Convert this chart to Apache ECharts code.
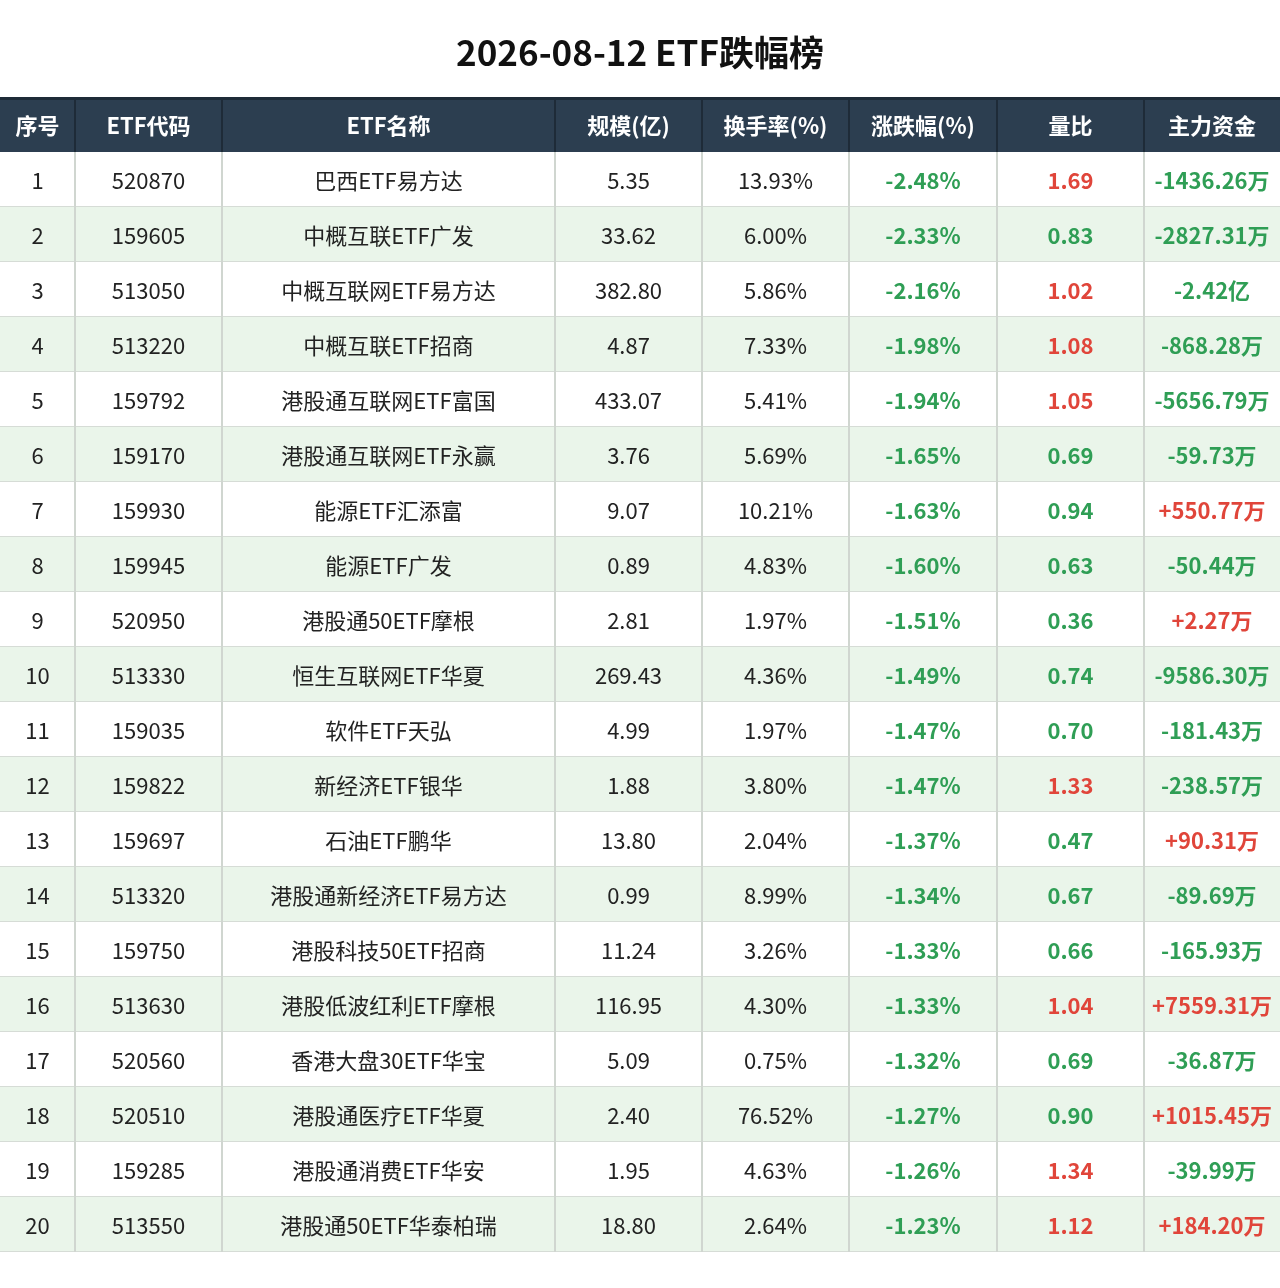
<!DOCTYPE html><html><head><meta charset="utf-8"><script src="https://cdn.jsdelivr.net/npm/echarts@6/dist/echarts.min.js"></script>
<style>body{margin:0;background:#fff}#c{width:1280px;height:1288px}</style></head><body><div id="c"></div><script>
const headers=['序号','ETF代码','ETF名称','规模(亿)','换手率(%)','涨跌幅(%)','量比','主力资金'];
const codes=['520870','159605','513050','513220','159792','159170','159930','159945','520950','513330','159035','159822','159697','513320','159750','513630','520560','520510','159285','513550'];
const names=['巴西ETF易方达','中概互联ETF广发','中概互联网ETF易方达','中概互联ETF招商','港股通互联网ETF富国','港股通互联网ETF永赢','能源ETF汇添富','能源ETF广发','港股通50ETF摩根','恒生互联网ETF华夏','软件ETF天弘','新经济ETF银华','石油ETF鹏华','港股通新经济ETF易方达','港股科技50ETF招商','港股低波红利ETF摩根','香港大盘30ETF华宝','港股通医疗ETF华夏','港股通消费ETF华安','港股通50ETF华泰柏瑞'];
const scale=['5.35','33.62','382.80','4.87','433.07','3.76','9.07','0.89','2.81','269.43','4.99','1.88','13.80','0.99','11.24','116.95','5.09','2.40','1.95','18.80'];
const turnover=['13.93%','6.00%','5.86%','7.33%','5.41%','5.69%','10.21%','4.83%','1.97%','4.36%','1.97%','3.80%','2.04%','8.99%','3.26%','4.30%','0.75%','76.52%','4.63%','2.64%'];
const change=['-2.48%','-2.33%','-2.16%','-1.98%','-1.94%','-1.65%','-1.63%','-1.60%','-1.51%','-1.49%','-1.47%','-1.47%','-1.37%','-1.34%','-1.33%','-1.33%','-1.32%','-1.27%','-1.26%','-1.23%'];
const volRatio=['1.69','0.83','1.02','1.08','1.05','0.69','0.94','0.63','0.36','0.74','0.70','1.33','0.47','0.67','0.66','1.04','0.69','0.90','1.34','1.12'];
const funds=['-1436.26万','-2827.31万','-2.42亿','-868.28万','-5656.79万','-59.73万','+550.77万','-50.44万','+2.27万','-9586.30万','-181.43万','-238.57万','+90.31万','-89.69万','-165.93万','+7559.31万','-36.87万','+1015.45万','-39.99万','+184.20万'];
const bounds=[0,75,222,555,702,849,997,1144,1280];
const RED='#e0453a',GREEN='#2f9e55',FONT='"Noto Sans CJK SC","Noto Sans",sans-serif';
const rows=[{v:[0],cells:headers,hdr:true}];
for(let i=0;i<20;i++)rows.push({v:[i+1],cells:[String(i+1),codes[i],names[i],scale[i],turnover[i],change[i],volRatio[i],funds[i]]});
const chart=echarts.init(document.getElementById('c'));
chart.setOption({
 title:{text:'2026-08-12 ETF跌幅榜',left:'center',top:30,textStyle:{fontSize:35,fontWeight:'bold',color:'#111',fontFamily:FONT}},
 grid:{left:0,right:0,top:97,height:1155},
 xAxis:{type:'value',min:0,max:1280,show:false},
 yAxis:{type:'value',min:0,max:21,inverse:true,show:false},
 series:[{type:'custom',data:rows.map(r=>r.v),renderItem:function(p,api){
  const r=rows[p.dataIndex],idx=r.v[0];
  const ch=[];
  const y0=api.coord([0,idx])[1],y1=api.coord([0,idx+1])[1],h=y1-y0;
  const bg=r.hdr?'#2c3e50':(idx%2===0?'#eaf5ea':'#ffffff');
  ch.push({type:'rect',shape:{x:0,y:y0,width:1280,height:h},style:{fill:bg}});
  if(!r.hdr)ch.push({type:'rect',shape:{x:0,y:y1-1,width:1280,height:1},style:{fill:'#d6dcd6'}});
  else ch.push({type:'rect',shape:{x:0,y:y0,width:1280,height:3},style:{fill:'#1e2b38'}});
  for(let c=0;c<8;c++){
   const xa=api.coord([bounds[c],idx])[0],xb=api.coord([bounds[c+1],idx])[0];
   if(c>0)ch.push({type:'rect',shape:{x:xa-1,y:y0,width:2,height:h},style:{fill:r.hdr?'#1e2b38':'#d0d6d0'}});
   let col='#222',fw='normal',t=r.cells[c];
   if(r.hdr){col='#fff';fw='bold';}
   else if(c===5){col=GREEN;fw='bold';}
   else if(c===6){col=parseFloat(t)>1?RED:GREEN;fw='bold';}
   else if(c===7){col=t[0]==='+'?RED:GREEN;fw='bold';}
   ch.push({type:'text',style:{text:t,x:(xa+xb)/2,y:y0+h/2+1,align:'center',verticalAlign:'middle',fill:col,fontSize:22,fontWeight:fw,fontFamily:FONT}});
  }
  return {type:'group',children:ch};
 }}]
});
</script></body></html>
